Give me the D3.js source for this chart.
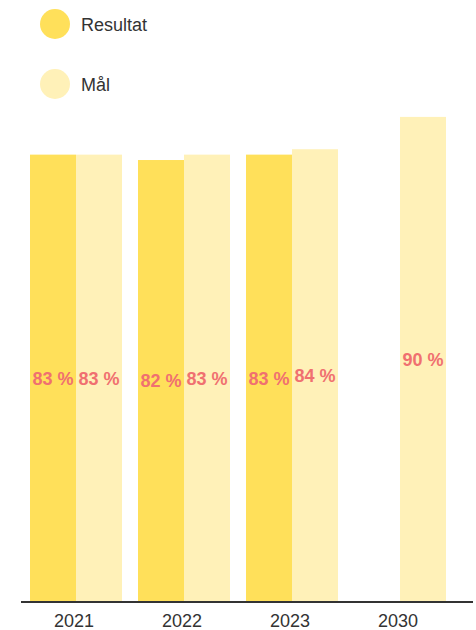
<!DOCTYPE html>
<html><head><meta charset="utf-8">
<script src="https://cdn.jsdelivr.net/npm/d3@7"></script>
<style>body{margin:0;background:#fff}svg{display:block;font-family:"Liberation Sans",Arial,sans-serif}</style>
</head><body>
<svg id="c" width="476" height="630"></svg>
<script>
const years = ["2021","2022","2023","2030"];
const seriesNames = ["Resultat","Mål"];
const resultat = [83, 82, 83, null];
const maal = [83, 83, 84, 90];
const colors = ["#ffe05a","#fff1b8"];

const svg = d3.select("#c");
const x0 = d3.scaleBand().domain(years).range([22,454]).paddingInner(16/108).paddingOuter(8/108);
const x1 = d3.scaleBand().domain(seriesNames).range([0, x0.bandwidth()]);
const y = d3.scaleLinear().domain([0,100]).range([602,63]);

const data = [];
years.forEach((yr,i)=>{
  [resultat[i], maal[i]].forEach((v,j)=>{ if(v!=null) data.push({year:yr, s:seriesNames[j], v, j}); });
});

svg.selectAll("rect.bar").data(data).join("rect").attr("class","bar")
  .attr("x", d=>x0(d.year)+x1(d.s)).attr("width", x1.bandwidth())
  .attr("y", d=>y(d.v)).attr("height", d=>y(0)-y(d.v)).attr("fill", d=>colors[d.j]);

svg.selectAll("text.lab").data(data).join("text").attr("class","lab")
  .attr("x", d=>x0(d.year)+x1(d.s)+x1.bandwidth()/2)
  .attr("y", d=>(y(d.v)+y(0))/2)
  .attr("dy","0.35em").attr("text-anchor","middle")
  .attr("font-size",18).attr("font-weight","bold").attr("fill","#f07070")
  .text(d=>d.v+" %");

// axis
const ax = svg.append("g").attr("transform","translate(-2,602)")
  .call(d3.axisBottom(x0).tickSize(0).tickPadding(12));
ax.select(".domain").remove();
ax.append("line").attr("x1",23).attr("x2",475).attr("stroke","#333").attr("stroke-width",2);
ax.selectAll("text").attr("font-size",18).attr("fill","#333").attr("font-family","Liberation Sans, Arial, sans-serif");

// legend
const lg = svg.append("g");
seriesNames.forEach((n,i)=>{
  const cy = 24 + i*60;
  lg.append("circle").attr("cx",55).attr("cy",cy).attr("r",15).attr("fill",colors[i]);
  lg.append("text").attr("x",81).attr("y",cy+7).attr("font-size",18).attr("fill","#333").text(n);
});
</script>
</body></html>
